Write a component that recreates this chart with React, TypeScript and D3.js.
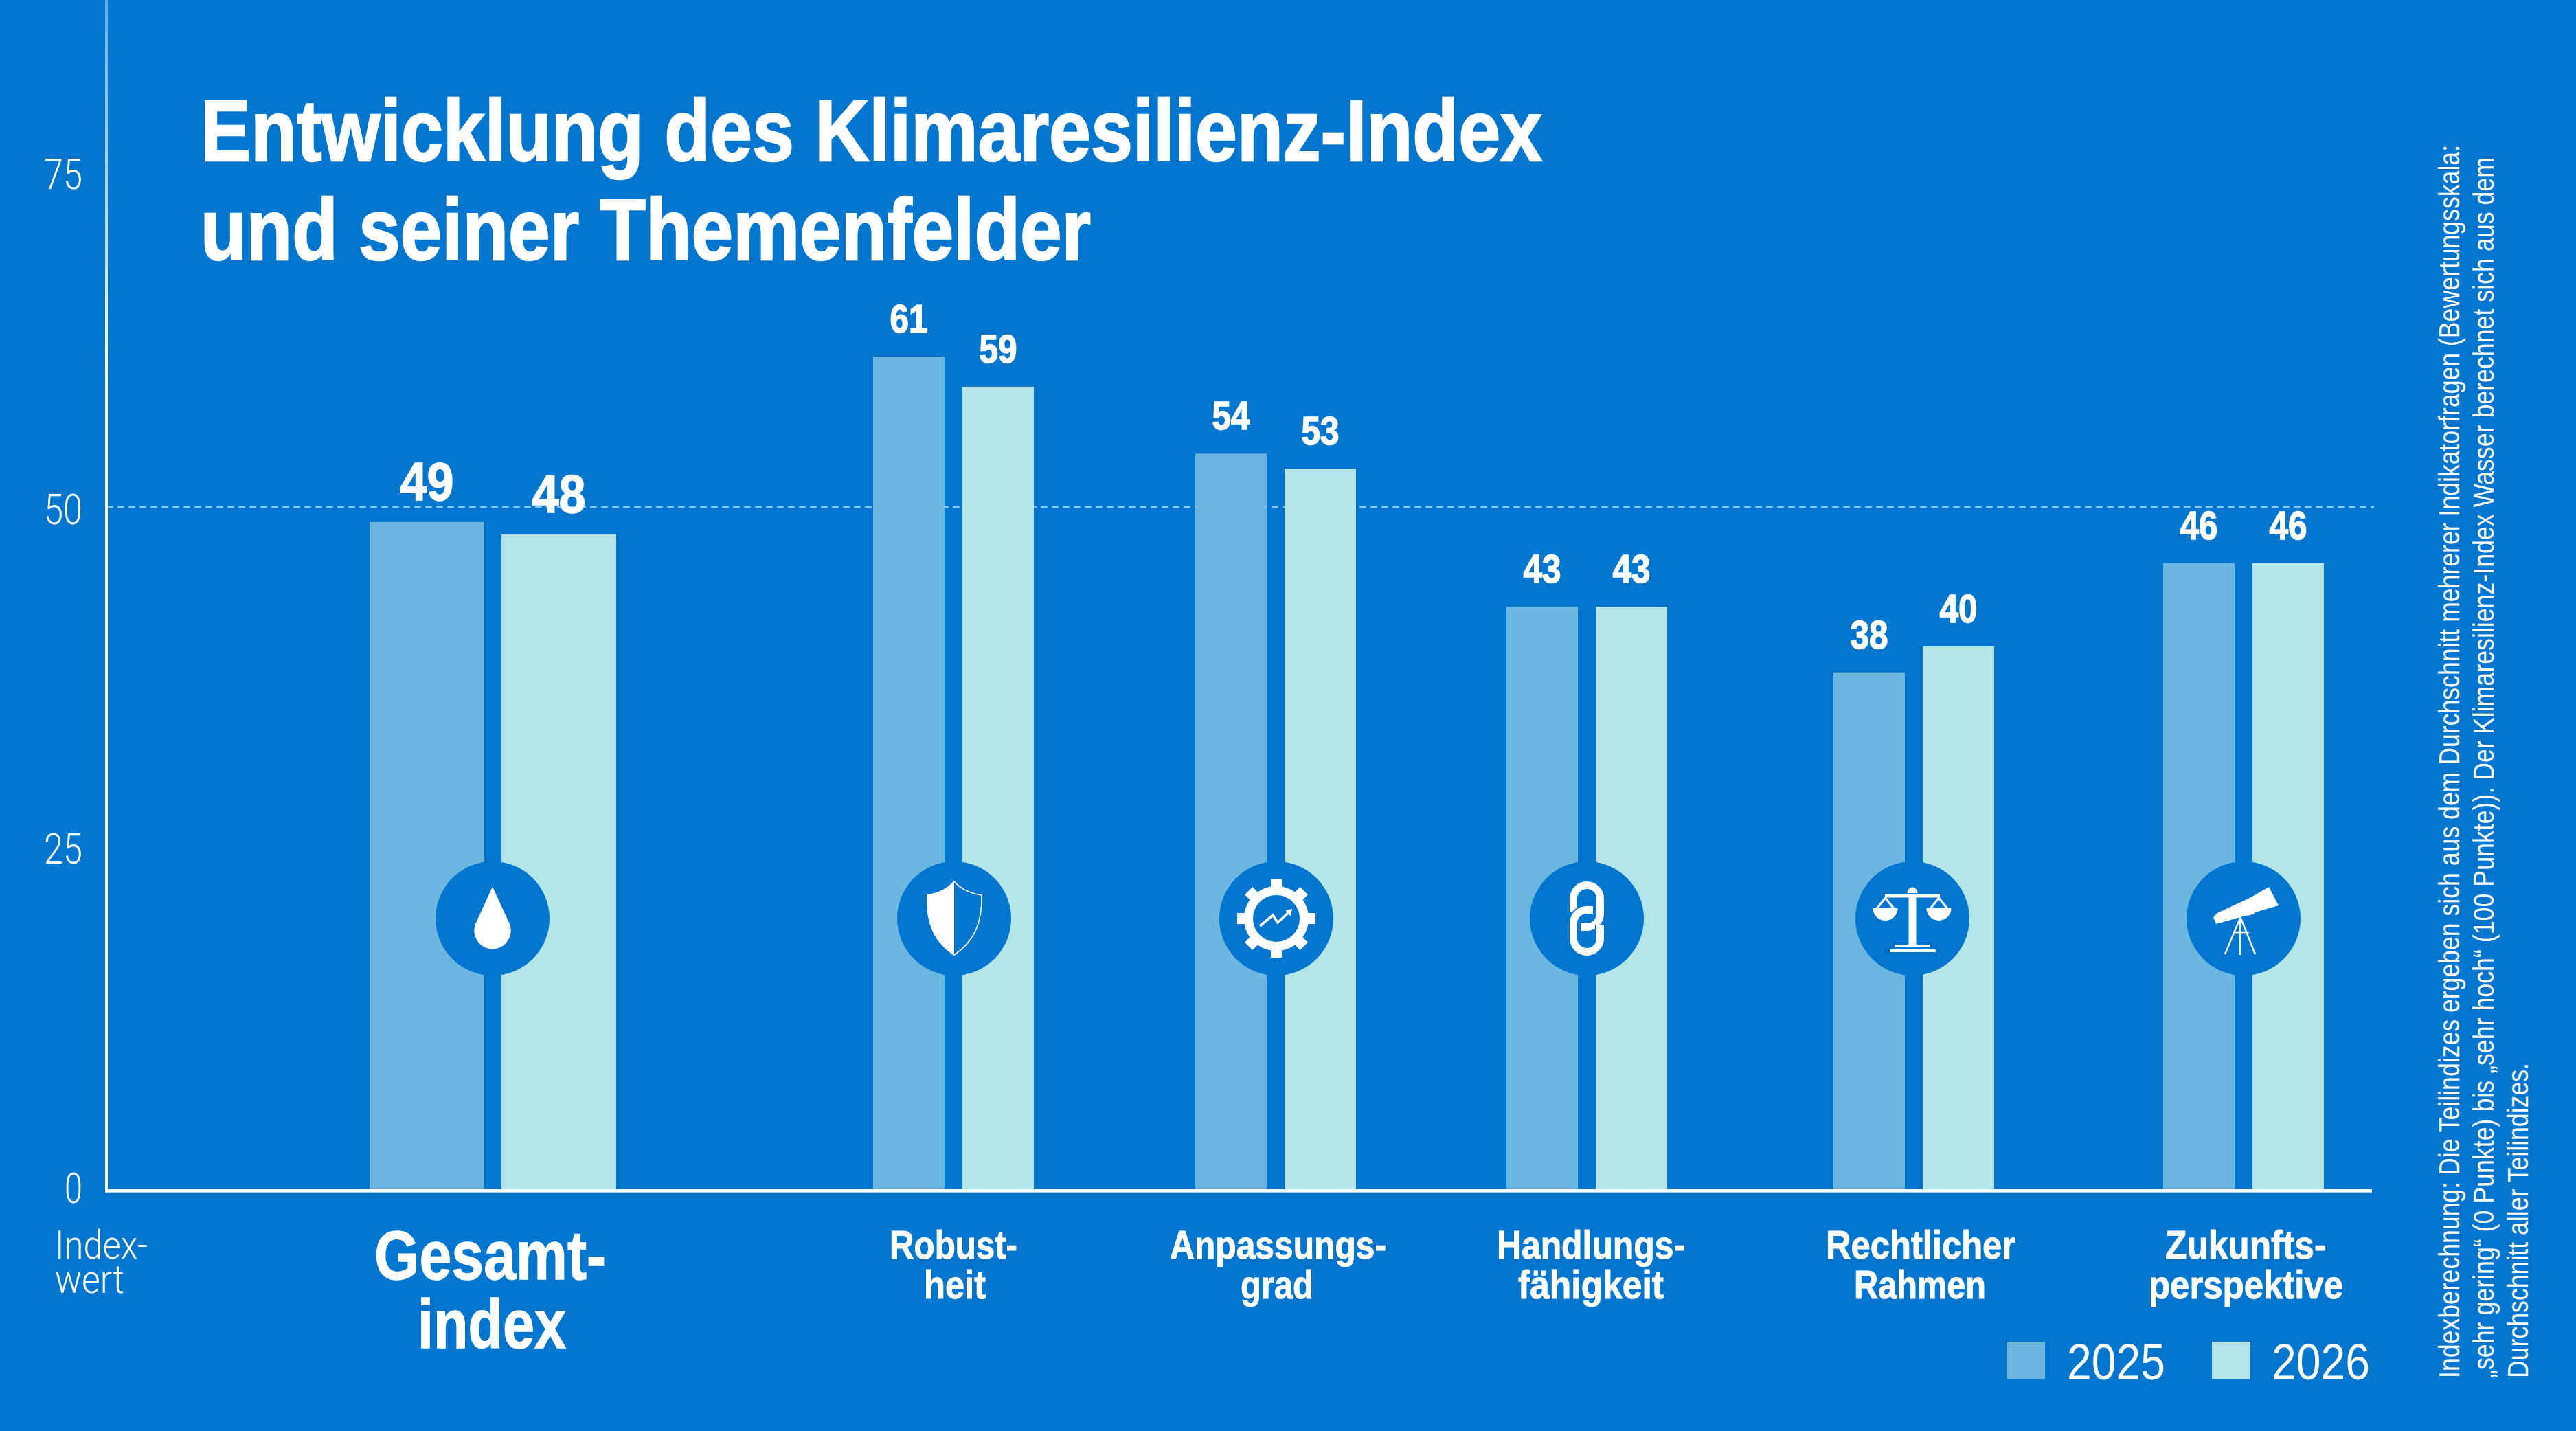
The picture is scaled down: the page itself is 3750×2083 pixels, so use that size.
import React, { useEffect, useRef } from 'react';
import * as d3 from 'd3';

const categories = ['Gesamtindex', 'Robustheit', 'Anpassungsgrad', 'Handlungsfähigkeit', 'Rechtlicher Rahmen', 'Zukunftsperspektive'];
const years = ['2025', '2026'];
// bar heights, the printed labels are these rounded
const values2025 = [48.9, 61, 53.9, 42.7, 37.9, 45.9];
const values2026 = [48, 58.8, 52.8, 42.7, 39.8, 45.9];
const yTicks = [0, 25, 50, 75];
const categoryLines = [
  ['Gesamt-', 'index'],
  ['Robust-', 'heit'],
  ['Anpassungs-', 'grad'],
  ['Handlungs-', 'fähigkeit'],
  ['Rechtlicher', 'Rahmen'],
  ['Zukunfts-', 'perspektive'],
];
const titleLines = ['Entwicklung des Klimaresilienz-Index', 'und seiner Themenfelder'];
const footnoteLines = [
  'Indexberechnung: Die Teilindizes ergeben sich aus dem Durchschnitt mehrerer Indikatorfragen (Bewertungsskala:',
  '„sehr gering“ (0 Punkte) bis „sehr hoch“ (100 Punkte)). Der Klimaresilienz-Index Wasser berechnet sich aus dem',
  'Durchschnitt aller Teilindizes.',
];

const W = 3750;
const H = 2083;
const BG = '#0276cf';
const C2025 = '#6cb7df';
const C2026 = '#b4e5e9';
const FONT = '"Liberation Sans Narrow", "Liberation Sans", Arial, sans-serif';
const LIGHT = 'Roboto, "Liberation Sans", sans-serif';
const groupLeft = [538, 1271, 1740, 2193, 2669, 3149];
const groupWidth = [359, 234, 234, 234, 234, 234];
const groupPadding = [0.131, 0.2, 0.2, 0.2, 0.2, 0.2];
const iconCx = [717, 1389, 1858, 2310, 2784, 3266];
const iconCy = 1337;
const labelSpans = [
  [[545, 882], [608, 824]],
  [[1295, 1481], [1345, 1435]],
  [[1703, 2018], [1806, 1912]],
  [[2179, 2453], [2210, 2422]],
  [[2658, 2934], [2699, 2891]],
  [[3152, 3386], [3128, 3411]],
];

const fitText = (
  g: d3.Selection<any, any, any, any>,
  str: string, x: number, y: number, width: number, size: number, weight: number | string = 400, family = FONT,
) =>
  g.append('text')
    .attr('x', x)
    .attr('y', y)
    .attr('font-family', family)
    .attr('font-size', size)
    .attr('font-weight', weight)
    .attr('fill', '#fff')
    .attr('textLength', width)
    .attr('lengthAdjust', 'spacingAndGlyphs')
    .text(str);

// the reference face is heavier than Liberation's bold
const heavy = (t: d3.Selection<any, any, any, any>, w = 1.5) =>
  t.attr('stroke', '#fff').attr('stroke-width', w);

// icons are drawn around the centre of their circle
const drawIcon = (g: d3.Selection<any, any, any, any>, i: number) => {
  const path = (d: string) => g.append('path').attr('d', d).attr('fill', '#fff');
  const line = (d: string, w: number, color = '#fff') =>
    g.append('path').attr('d', d).attr('fill', 'none').attr('stroke', color).attr('stroke-width', w);
  if (i === 0) {
    path('M0,-46.5 L23.5,5 A26.7,26.7 0 1 1 -23.5,5 Z');
  } else if (i === 1) {
    const outline = 'M0,-54 Q14,-38 40,-34 C41,5 30,33 0,53 C-30,33 -41,5 -39,-34 Q-14,-38 0,-54 Z';
    line(outline, 1.6);
    path('M0,-54 V53 C-30,33 -41,5 -39,-34 Q-14,-38 0,-54 Z');
  } else if (i === 2) {
    d3.range(8).forEach(k => {
      g.append('rect')
        .attr('x', -8).attr('y', -57).attr('width', 16).attr('height', 20)
        .attr('fill', '#fff')
        .attr('transform', `rotate(${k * 45})`);
    });
    g.append('circle').attr('r', 40.5).attr('fill', 'none').attr('stroke', '#fff').attr('stroke-width', 13);
    line('M-24,11 L-5,-5 L2,6 L18,-9', 3.6);
    path('M13.5,-12 L23,-14 L21,-3 Z');
  } else if (i === 3) {
    const top = 'M-19.5,-9 V-29 A19.5,19.5 0 0 1 19.5,-29 V-7 A19.5,19.5 0 0 1 0,12.5 H-9';
    const bottom = 'M19.5,9 V29 A19.5,19.5 0 0 1 -19.5,29 V7 A19.5,19.5 0 0 1 0,-12.5 H9';
    line(top, 11);
    line(bottom, 15, BG);
    line(bottom, 11);
  } else if (i === 4) {
    path('M-7.5,-37 A7.5,8.5 0 0 1 7.5,-37 Z');
    g.append('rect').attr('x', -40).attr('y', -35).attr('width', 80).attr('height', 4.5).attr('fill', '#fff');
    g.append('rect').attr('x', -5.5).attr('y', -33).attr('width', 11).attr('height', 73).attr('fill', '#fff');
    g.append('rect').attr('x', -26).attr('y', 38).attr('width', 52).attr('height', 4).attr('fill', '#fff');
    g.append('rect').attr('x', -33).attr('y', 45).attr('width', 67).attr('height', 4).attr('fill', '#fff');
    [-39.5, 38.5].forEach(cx => {
      path(`M${cx - 18},-15 A18,18 0 0 0 ${cx + 18},-15 Z`);
      line(`M${cx - 12},-15 L${cx},-30 L${cx + 12},-15`, 3.2);
    });
  } else {
    path('M37,-46 L51,-19 L17,-9 L14,-6 L-1,-3 L-40,8 L-44,-2 L-38,-8 L9,-30 Z');
    line('M-4,-3 L-27,52 M-5,-3 L-5,53 M-5,-3 L17,52 M-15,20 H8', 2.4);
  }
};

const App: React.FC = () => {
  const svgRef = useRef<SVGSVGElement>(null);

  useEffect(() => {
    if (!svgRef.current) return;
    const svg = d3.select(svgRef.current);
    svg.selectAll('*').remove();

    const y = d3.scaleLinear().domain([0, 50]).range([1733, 738]);
    // the tick labels sit a little off the value they name
    const yLabel = d3.scaleLinear().domain([0, 50, 75]).range([1750, 762, 274]);

    const grad = svg.append('defs').append('linearGradient')
      .attr('id', 'axisFade')
      .attr('gradientUnits', 'userSpaceOnUse')
      .attr('x1', 0).attr('y1', 0).attr('x2', 0).attr('y2', 560);
    grad.append('stop').attr('offset', 0).attr('stop-color', '#62abe3');
    grad.append('stop').attr('offset', 1).attr('stop-color', '#ffffff');

    svg.append('rect').attr('width', W).attr('height', H).attr('fill', BG);

    // dashed reference line
    svg.append('line')
      .attr('x1', 155).attr('x2', 3456)
      .attr('y1', y(50)).attr('y2', y(50))
      .attr('stroke', '#86c2ea')
      .attr('stroke-width', 2.5)
      .attr('stroke-dasharray', '10,6');

    // bars
    categories.forEach((cat, i) => {
      const x = d3.scaleBand<string>()
        .domain(years)
        .range([groupLeft[i], groupLeft[i] + groupWidth[i]])
        .paddingInner(groupPadding[i]);
      const vals = [values2025[i], values2026[i]];
      const big = i === 0;
      const g = svg.append('g').attr('class', 'group');
      g.selectAll('rect')
        .data(vals)
        .enter()
        .append('rect')
        .attr('x', (_, k) => x(years[k])!)
        .attr('y', d => y(d))
        .attr('width', x.bandwidth())
        .attr('height', d => y(0) - y(d))
        .attr('fill', (_, k) => (k === 0 ? C2025 : C2026));
      vals.forEach((v, k) => {
        const w = big ? 78 : 55;
        heavy(fitText(g, d3.format('.0f')(v), x(years[k])! + x.bandwidth() / 2 - w / 2, y(v) - (big ? 32 : 35), w, big ? 78 : 58, 700));
      });
    });

    // axes
    const yAxis = svg.append('g')
      .attr('transform', 'translate(155,0)')
      .call(d3.axisLeft(y).tickValues(yTicks).tickSize(0));
    yAxis.select('.domain').remove();
    yAxis.selectAll<SVGTextElement, number>('text')
      .attr('x', -35)
      .attr('dy', null)
      .attr('y', d => yLabel(d) - y(d))
      .attr('fill', '#fff')
      .attr('text-anchor', 'end')
      .attr('font-family', LIGHT)
      .attr('font-weight', 300)
      .attr('font-size', 61)
      .attr('textLength', d => (d === 0 ? 26 : 56))
      .attr('lengthAdjust', 'spacingAndGlyphs');

    svg.append('rect').attr('x', 153).attr('y', 0).attr('width', 4).attr('height', 1735).attr('fill', 'url(#axisFade)');
    svg.append('rect').attr('x', 153).attr('y', 1731).attr('width', 3300).attr('height', 4).attr('fill', '#fff');
    svg.append('rect').attr('x', 153).attr('y', 1735).attr('width', 3300).attr('height', 1.5).attr('fill', '#9fd0f0');

    // icons
    categories.forEach((_, i) => {
      const g = svg.append('g').attr('transform', `translate(${iconCx[i]},${iconCy})`);
      g.append('circle').attr('r', 83).attr('fill', BG);
      drawIcon(g, i);
    });

    // title
    heavy(fitText(svg, titleLines[0], 292, 234, 1953, 126, 700), 2.5);
    heavy(fitText(svg, titleLines[1], 292, 378, 1296, 126, 700), 2.5);

    // category labels
    categoryLines.forEach((lines, i) => {
      lines.forEach((t, k) => {
        const [x0, x1] = labelSpans[i][k];
        if (i === 0) heavy(fitText(svg, t, x0, k === 0 ? 1862 : 1962, x1 - x0, 100, 700), 1.5);
        else heavy(fitText(svg, t, x0, k === 0 ? 1832 : 1890, x1 - x0, 58, 700), 1);
      });
    });

    fitText(svg, 'Index-', 80, 1832, 135, 58, 300, LIGHT);
    fitText(svg, 'wert', 80, 1882, 101, 58, 300, LIGHT);

    // legend
    const legend = svg.append('g');
    [[2921, 3009, C2025], [3220, 3307, C2026]].forEach((d, k) => {
      legend.append('rect')
        .attr('x', d[0]).attr('y', 1953).attr('width', 56).attr('height', 55)
        .attr('fill', d[2] as string);
      fitText(legend, years[k], d[1] as number, 2008, 143, 74, 400, FONT);
    });

    // footnote, rotated
    const noteX = [3580, 3630, 3680];
    const noteW = [1795, 1777, 459];
    footnoteLines.forEach((t, i) => {
      const g = svg.append('g').attr('transform', `translate(${noteX[i]},2006) rotate(-90)`);
      fitText(g, t, 0, 0, noteW[i], 42, 400);
    });
  }, []);

  return <svg ref={svgRef} width={W} height={H} style={{ position: 'absolute', left: 0, top: 0, display: 'block' }} />;
};

export default App;
